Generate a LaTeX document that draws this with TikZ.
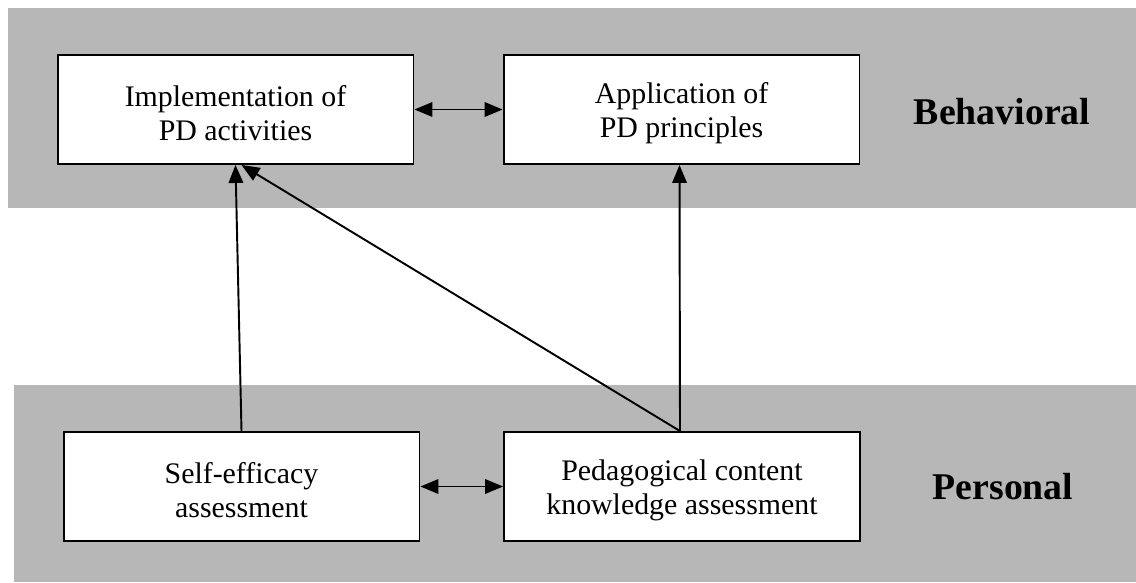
\documentclass[tikz,border=0pt]{standalone}
\usepackage{fontspec}
\setmainfont{Liberation Serif}
\usetikzlibrary{arrows.meta}
\definecolor{bandG}{RGB}{183,183,183}
\newcommand{\upstrut}{\rule{0pt}{16.5pt}}

\begin{document}
\begin{tikzpicture}[x=0.02cm,y=-0.02cm,>={Triangle[length=3.6mm,width=2.9mm]},
  box/.style={draw,fill=white,line width=1.1pt,minimum width=7.12cm,minimum height=2.18cm,
    align=center,inner sep=0pt,font=\fontsize{17}{19.3}\selectfont},
  layer/.style={font=\fontsize{21.5}{24}\selectfont\bfseries},
  link/.style={<->,line width=1.1pt},
  effect/.style={->,line width=1.1pt}]
\useasboundingbox (0,0) rectangle (1136,582);
\fill[white] (0,0) rectangle (1136,582);
\fill[bandG] (8,8) rectangle (1136,208);
\fill[bandG] (14,385) rectangle (1136,582);
\node[box] (impl) at (235.5,109.5) {\upstrut Implementation of\\PD activities};
\node[box] (appl) at (681.5,109.5) {\upstrut Application of\\PD principles};
\node[box] (selfeff) at (241.5,486.5) {\upstrut Self-efficacy\\assessment};
\node[box] (pck) at (682,486.5) {\upstrut Pedagogical content\\knowledge assessment};
\node[layer] (behav) at (1002,112) {Behavioral};
\node[layer] (pers) at (1003,487) {Personal};
\draw[link] (impl.east) -- (appl.west);
\draw[link] (selfeff.east) -- (pck.west);
\draw[effect] (selfeff.north) -- (impl.south);
\draw[effect] ([xshift=-0.04cm]pck.north) -- ([xshift=0.12cm]impl.south);
\draw[effect] ([xshift=-0.04cm]pck.north) -- ([xshift=-0.04cm]appl.south);
\end{tikzpicture}
\end{document}
